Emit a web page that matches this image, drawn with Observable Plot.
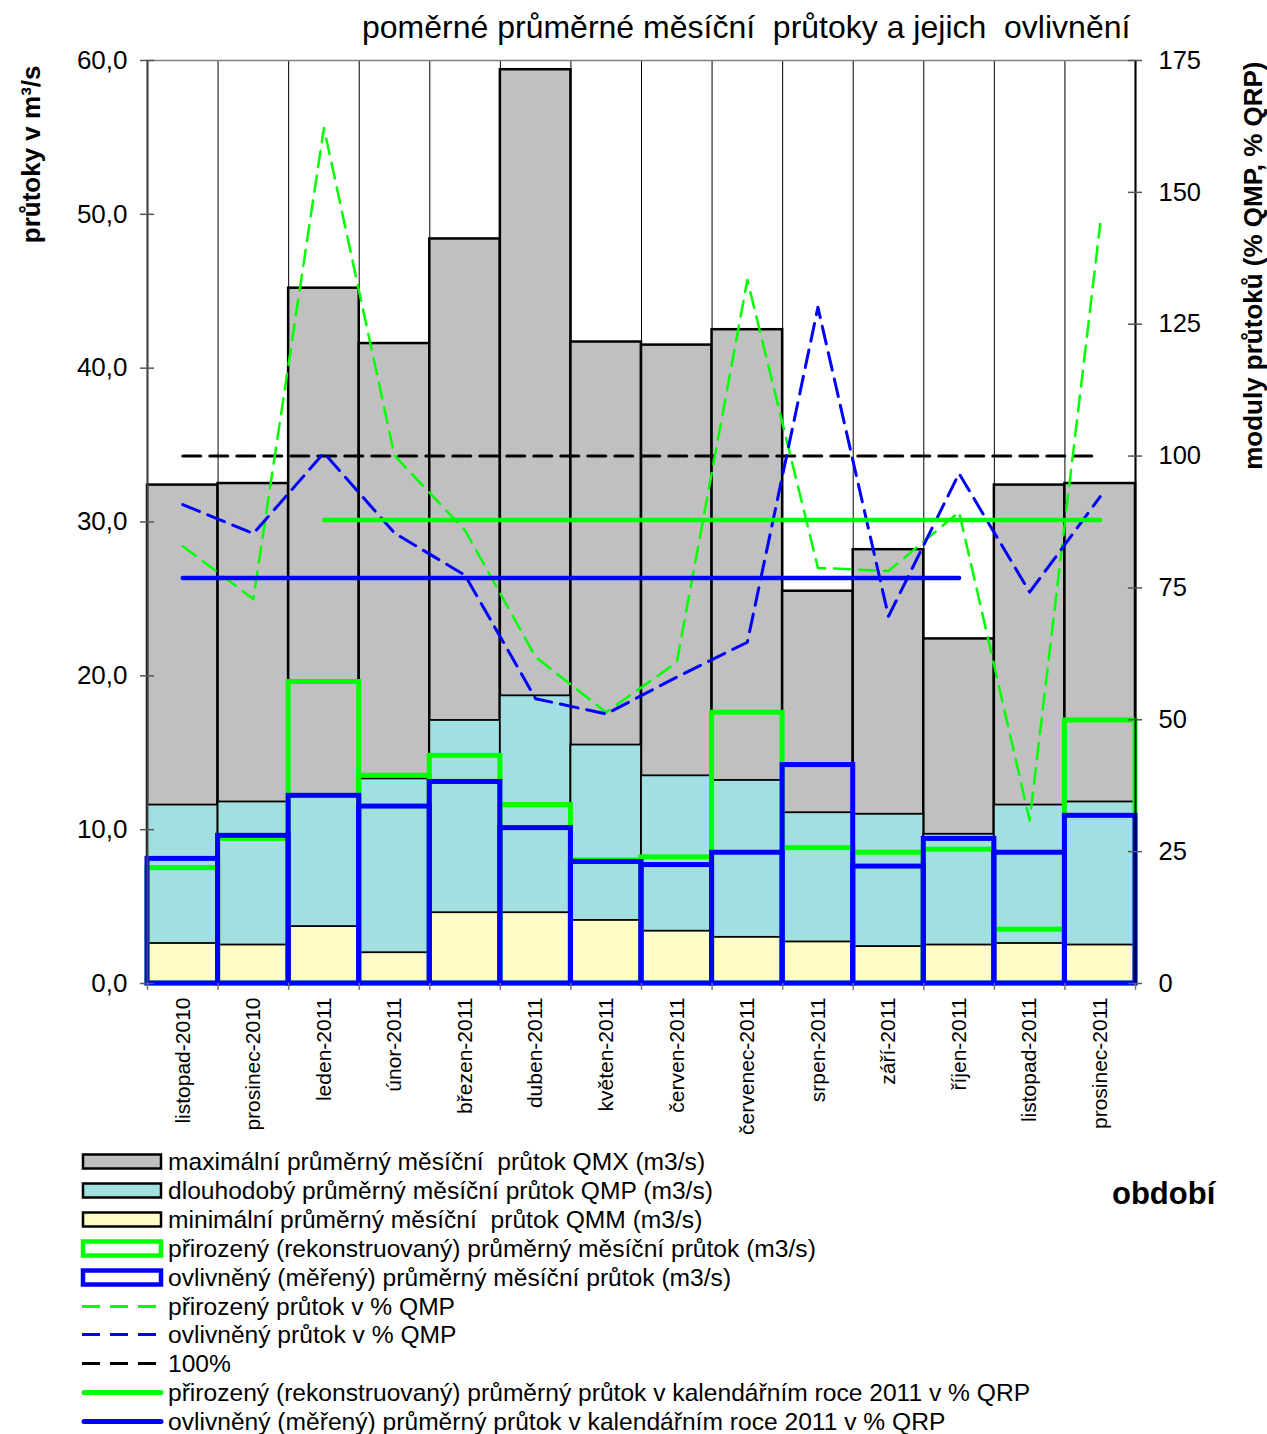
<!DOCTYPE html>
<html><head><meta charset="utf-8">
<script src="https://cdn.jsdelivr.net/npm/d3@7"></script>
<script src="https://cdn.jsdelivr.net/npm/@observablehq/plot@0.6"></script>
<style>
body{margin:0;background:#fff;font-family:"Liberation Sans",Arial,sans-serif;color:#000;}
#wrap{position:relative;width:1267px;height:1434px;overflow:hidden;}
#chart{position:absolute;left:0;top:0;}
#title{position:absolute;left:362px;top:12px;font-size:32px;line-height:31px;white-space:pre;}
#obdobi{position:absolute;left:1112px;top:1178px;font-size:31px;line-height:31px;font-weight:bold;}
.leg{position:absolute;left:0;height:29px;width:1200px;}
.leg svg{position:absolute;left:0;top:0;}
.leg span{position:absolute;left:168px;top:2px;font-size:24.6px;line-height:26px;white-space:pre;}
</style></head><body>
<div id="wrap"><div id="chart"></div><div id="title"></div><div id="legend"></div><div id="obdobi">období</div></div>
<script>
// ---- data ----
const months = ["listopad-2010","prosinec-2010","leden-2011","únor-2011","březen-2011","duben-2011","květen-2011","červen-2011","červenec-2011","srpen-2011","září-2011","říjen-2011","listopad-2011","prosinec-2011"];
const qmx = [32.4, 32.5, 45.2, 41.6, 48.4, 59.4, 41.7, 41.5, 42.5, 25.5, 28.2, 22.4, 32.4, 32.5];
const qmp = [11.6, 11.8, 12.2, 13.3, 17.1, 18.7, 15.5, 13.5, 13.2, 11.1, 11.0, 9.7, 11.6, 11.8];
const qmm = [2.6, 2.5, 3.7, 2.0, 4.6, 4.6, 4.1, 3.4, 3.0, 2.7, 2.4, 2.5, 2.6, 2.5];
const natural = [7.5, 9.4, 19.6, 13.5, 14.8, 11.6, 8.0, 8.2, 17.6, 8.8, 8.5, 8.7, 3.5, 17.1];
const measured = [8.1, 9.6, 12.2, 11.5, 13.1, 10.1, 7.9, 7.7, 8.5, 14.2, 7.6, 9.4, 8.5, 10.9];
const naturalPct = [82.9, 72.9, 162.2, 100.1, 85.9, 61.9, 51.4, 60.9, 133.4, 78.8, 78.2, 89.4, 30.9, 144.0];
const measuredPct = [90.8, 85.3, 100.6, 85.4, 77.4, 54.0, 51.1, 58.1, 64.7, 128.2, 69.6, 96.7, 74.2, 92.3];
const refPct = 100;
const refSpan = ["listopad-2010", "prosinec-2011"];
const naturalYearPct = 87.9;
const naturalYearSpan = ["leden-2011", "prosinec-2011"];
const measuredYearPct = 76.9;
const measuredYearSpan = ["listopad-2010", "říjen-2011"];
const leftTicks = [0, 10, 20, 30, 40, 50, 60];
const rightTicks = [0, 25, 50, 75, 100, 125, 150, 175];
const titleText = "poměrné průměrné měsíční  průtoky a jejich  ovlivnění";
const yLeftTitle = "průtoky v m³/s";
const yRightTitle = "moduly průtoků (% QMP, % QRP)";
const legendItems = [
  {label: "maximální průměrný měsíční  průtok QMX (m3/s)", type: "box", fill: "#c0c0c0", stroke: "#000"},
  {label: "dlouhodobý průměrný měsíční průtok QMP (m3/s)", type: "box", fill: "#a2dfe0", stroke: "#000"},
  {label: "minimální průměrný měsíční  průtok QMM (m3/s)", type: "box", fill: "#fffcc6", stroke: "#000"},
  {label: "přirozený (rekonstruovaný) průměrný měsíční průtok (m3/s)", type: "outline", fill: "#fff", stroke: "#00ff00"},
  {label: "ovlivněný (měřený) průměrný měsíční průtok (m3/s)", type: "outline", fill: "#fff", stroke: "#0000ff"},
  {label: "přirozený průtok v % QMP", type: "dash", stroke: "#00ff00"},
  {label: "ovlivněný průtok v % QMP", type: "dash", stroke: "#0000ff"},
  {label: "100%", type: "dash", stroke: "#000"},
  {label: "přirozený (rekonstruovaný) průměrný průtok v kalendářním roce 2011 v % QRP", type: "solid", stroke: "#00ff00"},
  {label: "ovlivněný (měřený) průměrný průtok v kalendářním roce 2011 v % QRP", type: "solid", stroke: "#0000ff"}
];

// ---- chart ----
const yMax = 60, pctMax = 175, k = yMax / pctMax;
const data = months.map((m, i) => ({i, m, qmx: qmx[i], qmp: qmp[i], qmm: qmm[i], nat: natural[i], mes: measured[i],
  natPct: naturalPct[i] * k, mesPct: measuredPct[i] * k}));
const idx = m => months.indexOf(m);
const span = (s, v) => s.map(m => ({i: idx(m), v: v * k}));
const bounds = d3.range(months.length + 1).map(i => i - 0.5);
const x1 = d => d.i - 0.5, x2 = d => d.i + 0.5;
const last = months.length - 0.5;

const chart = Plot.plot({
  width: 1267, height: 1145, marginLeft: 147, marginRight: 132, marginTop: 60, marginBottom: 162,
  x: {domain: [-0.5, last], axis: null},
  y: {domain: [0, yMax], axis: null},
  style: {fontFamily: "Liberation Sans, Arial, sans-serif", background: "white", color: "black", overflow: "visible"},
  marks: [
    Plot.ruleX(bounds, {stroke: "black", strokeWidth: 1}),
    Plot.frame({stroke: "#808080", strokeWidth: 1.5}),
    Plot.rect(data, {x1, x2, y1: 0, y2: "qmx", fill: "#c0c0c0", stroke: "black", strokeWidth: 2.5}),
    Plot.rect(data, {x1, x2, y1: 0, y2: "qmp", fill: "#a2dfe0", stroke: "black", strokeWidth: 1.8}),
    Plot.rect(data, {x1, x2, y1: 0, y2: "qmm", fill: "#fffcc6", stroke: "black", strokeWidth: 1.8}),
    Plot.rect(data, {x1, x2, y1: 0, y2: "nat", fill: "none", stroke: "#00ff00", strokeWidth: 5}),
    Plot.rect(data, {x1, x2, y1: 0, y2: "mes", fill: "none", stroke: "#0000ff", strokeWidth: 5}),
    Plot.ruleX([-0.5], {stroke: "#444", strokeWidth: 2}),
    Plot.ruleX([last], {stroke: "#000", strokeWidth: 2}),
    Plot.ruleY(leftTicks, {x1: -0.6, x2: -0.4, stroke: "#555", strokeWidth: 1.5}),
    Plot.ruleY(rightTicks.map(v => v * k), {x1: last - 0.1, x2: last + 0.1, stroke: "#555", strokeWidth: 1.5}),
    Plot.ruleX(bounds, {y1: 0, y2: -0.45, stroke: "#777", strokeWidth: 1.5}),
    Plot.line(span(refSpan, refPct), {x: "i", y: "v", stroke: "black", strokeWidth: 3, strokeDasharray: "18,9"}),
    Plot.line(data, {x: "i", y: "natPct", stroke: "#00ff00", strokeWidth: 2.5, strokeDasharray: "16,9"}),
    Plot.line(data, {x: "i", y: "mesPct", stroke: "#0000ff", strokeWidth: 3, strokeDasharray: "18,9"}),
    Plot.line(span(naturalYearSpan, naturalYearPct), {x: "i", y: "v", stroke: "#00ff00", strokeWidth: 4.5, strokeLinecap: "round"}),
    Plot.line(span(measuredYearSpan, measuredYearPct), {x: "i", y: "v", stroke: "#0000ff", strokeWidth: 4.5, strokeLinecap: "round"}),
    Plot.axisY(leftTicks, {anchor: "left", tickSize: 0, tickPadding: 20, fontSize: 26, tickFormat: d => d.toFixed(1).replace(".", ","), label: null}),
    Plot.axisY(rightTicks.map(v => v * k), {anchor: "right", tickSize: 0, tickPadding: 23, fontSize: 25.5, tickFormat: d => String(Math.round(d / k)), label: null}),
    Plot.axisX(d3.range(months.length), {anchor: "bottom", tickSize: 0, tickPadding: 14, tickRotate: -90, fontSize: 21, tickFormat: i => months[i], label: null}),
    Plot.text([yLeftTitle], {text: d => d, frameAnchor: "top-left", rotate: -90, textAnchor: "end", dx: -126, dy: 5, fontSize: 26, fontWeight: "bold"}),
    Plot.text([yRightTitle], {text: d => d, frameAnchor: "top-right", rotate: -90, textAnchor: "end", dx: 108, dy: 1, fontSize: 26, fontWeight: "bold"})
  ]
});
document.getElementById("chart").appendChild(chart);
document.getElementById("title").textContent = titleText;

// ---- legend ----
const leg = d3.select("#legend");
legendItems.forEach((it, j) => {
  const row = leg.append("div").attr("class", "leg").style("top", (1147 + j * 28.9) + "px");
  const s = row.append("svg").attr("width", 170).attr("height", 29);
  if (it.type === "box" || it.type === "outline") {
    const w = it.type === "box" ? 2.5 : 4.5;
    s.append("rect").attr("x", 83).attr("y", 7.5).attr("width", 78).attr("height", 14)
      .attr("fill", it.fill).attr("stroke", it.stroke).attr("stroke-width", w);
  } else if (it.type === "dash") {
    s.append("line").attr("x1", 82).attr("x2", 157).attr("y1", 14.5).attr("y2", 14.5)
      .attr("stroke", it.stroke).attr("stroke-width", 3).attr("stroke-dasharray", "18,10");
  } else {
    s.append("line").attr("x1", 84).attr("x2", 161).attr("y1", 14.5).attr("y2", 14.5)
      .attr("stroke", it.stroke).attr("stroke-width", 5).attr("stroke-linecap", "round");
  }
  row.append("span").text(it.label);
});
</script>
</body></html>
